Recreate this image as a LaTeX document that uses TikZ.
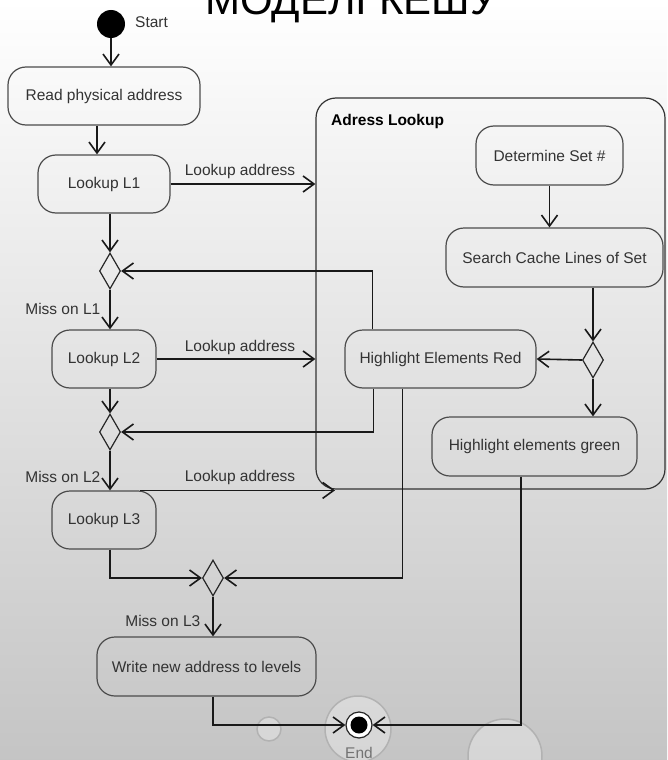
\documentclass[tikz,border=0pt]{standalone}
\usepackage{fontspec}
\setmainfont{Liberation Sans}
\usetikzlibrary{arrows.meta,shapes.geometric,calc}
\begin{document}
\begin{tikzpicture}[x=1pt,y=-1pt,
  every node/.style={font=\fontsize{15.5}{18}\selectfont, text=black!80},
  act/.style={draw=black!70, line width=1.2pt, rounded corners=18pt, minimum height=58pt, inner sep=0pt},
  dec/.style={draw=black!85, line width=1.2pt, diamond, minimum width=21pt, minimum height=36pt, inner sep=0pt, aspect=0.58},
  flow/.style={draw=black!90, line width=1.6pt, -{Straight Barb[length=11pt,width=16pt]}},
  lbl/.style={inner sep=1.5pt},
  bubble/.style={draw=black!30, line width=1.5pt, fill=white, fill opacity=0.3},
]
\useasboundingbox (0,0) rectangle (667,760);
\clip (0,0) rectangle (667,760);
\shade[top color=white, middle color=black!7, bottom color=black!23] (0,0) rectangle (667,760);

% title (cut off at the top)
\node[anchor=base, inner sep=0pt, font=\fontsize{42}{42}\selectfont, text=black] (title) at (351,15) {МОДЕЛІ КЕШУ};

% decorative bubbles
\draw[bubble] (358,729) circle (33);
\draw[bubble] (269,729) circle (12);
\draw[bubble] (505,756) circle (37);

% container
\node[draw=black!80, line width=1.2pt, rounded corners=20pt, minimum width=349pt, minimum height=391pt, inner sep=0pt] (box) at (490.5,293.5) {};
\node[anchor=west, font=\fontsize{15.5}{18}\selectfont\bfseries, text=black, inner sep=0pt] (boxlbl) at (331,121) {Adress Lookup};

% start / end
\node[circle, fill=black, minimum size=28pt, inner sep=0pt] (start) at (111,24) {};
\node[anchor=west, inner sep=0pt] (startlbl) at (135,22) {Start};
\node[circle, draw=black!85, line width=1.2pt, fill=white, minimum size=26pt, inner sep=0pt] (end) at (359,725) {};
\node[circle, fill=black, minimum size=17pt, inner sep=0pt] (endin) at (end.center) {};
\node[text=black!55, inner sep=0pt] (endlbl) at (359,753) {End};

% activities
\node[act, minimum width=192pt] (read) at (104,96) {Read physical address};
\node[act, minimum width=132pt] (L1) at (104,184) {Lookup L1};
\node[act, minimum width=104pt] (L2) at (104,359) {Lookup L2};
\node[act, minimum width=104pt] (L3) at (104,520) {Lookup L3};
\node[act, minimum width=219pt, minimum height=59pt] (write) at (206.5,666.5) {Write new address to levels};
\node[act, minimum width=147pt, minimum height=59pt] (det) at (549.5,155.5) {Determine Set \#};
\node[act, minimum width=217pt, minimum height=59pt] (search) at (554.5,257.5) {Search Cache Lines of Set};
\node[act, minimum width=191pt] (red) at (440.5,359) {Highlight Elements Red};
\node[act, minimum width=205pt, minimum height=59pt] (green) at (534.5,446.5) {Highlight elements green};

% decisions
\node[dec] (d1) at (110,271) {};
\node[dec] (d2) at (110,432) {};
\node[dec] (d3) at (213,578) {};
\node[dec] (d4) at (593,360) {};

% connectors
\draw[flow] (start.south) -- (start.south |- read.north);
\draw[flow] ($(read.south)+(-7,0)$) -- ($(L1.north)+(-7,0)$);
\draw[flow] (L1.east) -- (L1.east -| box.west);
\node[lbl] (la1) at (240,171) {Lookup address};
\draw[flow] (d1.north |- L1.south) -- (d1.north);
\draw[flow] ($(red.north west)+(28,0)$) |- (d1.east);
\draw[flow] (d1.south) -- (d1.south |- L2.north);
\node[lbl, anchor=east] (m1) at (102,309) {Miss on L1};
\draw[flow] (L2.east) -- (L2.east -| box.west);
\node[lbl] (la2) at (240,347) {Lookup address};
\draw[flow] (d2.north |- L2.south) -- (d2.north);
\draw[flow] ($(red.south west)+(29,0)$) |- (d2.east);
\draw[flow] ($(red.south west)+(58,0)$) |- (d3.east);
\draw[flow] (d2.south) -- (d2.south |- L3.north);
\node[lbl, anchor=east] (m2) at (102,477) {Miss on L2};
\draw[flow] ($(L3.north)+(36,0)$) -- ++(195,0);
\node[lbl] (la3) at (240,477) {Lookup address};
\draw[flow] (d2.south |- L3.south) |- (d3.west);
\draw[flow] (d3.south) -- (d3.south |- write.north);
\node[lbl, anchor=east] (m3) at (202,621) {Miss on L3};
\draw[flow] (d3.south |- write.south) |- (end.west);
\draw[flow] ($(green.south)+(-13.5,0)$) |- (end.east);
\draw[flow] (det.south) -- (det.south |- search.north);
\draw[flow] (d4.north |- search.south) -- (d4.north);
\draw[flow] (d4.west) -- (red.east);
\draw[flow] (d4.south) -- (d4.south |- green.north);
\end{tikzpicture}
\end{document}
